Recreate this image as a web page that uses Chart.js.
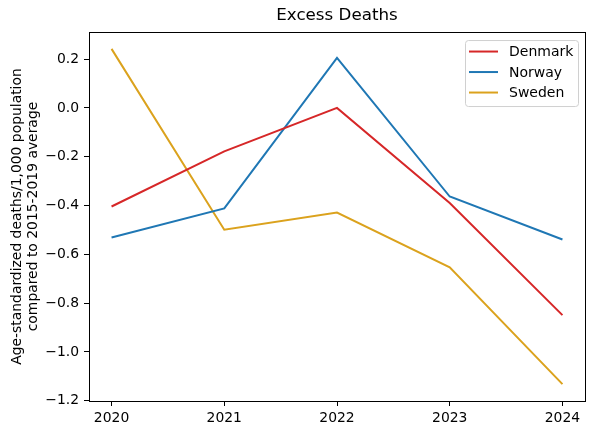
<!DOCTYPE html>
<html>
<head>
<meta charset="utf-8">
<script src="https://cdn.jsdelivr.net/npm/chart.js@4"></script>
<style>
  html, body { margin: 0; padding: 0; background: #fff; }
  #wrap { width: 595px; height: 435px; }
</style>
</head>
<body>
<div id="wrap"><canvas id="excessChart" width="595" height="435"></canvas></div>
<script>
const years = [2020, 2021, 2022, 2023, 2024];
const denmark = [-0.404, -0.178, 0.0, -0.39, -0.849];
const norway = [-0.531, -0.412, 0.205, -0.363, -0.539];
const sweden = [0.242, -0.499, -0.429, -0.653, -1.132];
const yTicks = [-1.2, -1.0, -0.8, -0.6, -0.4, -0.2, 0.0, 0.2];

const series = [
    { label: 'Denmark', values: denmark, color: '#d62728' },
    { label: 'Norway', values: norway, color: '#1f77b4' },
    { label: 'Sweden', values: sweden, color: '#dba21d' }
];

const font = 'DejaVu Sans';

// frame around the plot plus the matplotlib-like legend box
const framePlugin = {
    id: 'frame',
    afterDraw(chart) {
        const ctx = chart.ctx;
        const ca = chart.chartArea;
        ctx.save();
        ctx.strokeStyle = '#000';
        ctx.lineWidth = 1;
        ctx.strokeRect(Math.round(ca.left) + 0.5, Math.round(ca.top) + 0.5,
            Math.round(ca.right - ca.left), Math.round(ca.bottom - ca.top));

        // legend
        const w = 113, h = 66;
        const bx = ca.right - 7 - w, by = ca.top + 8;
        ctx.beginPath();
        ctx.roundRect(bx + 0.5, by + 0.5, w, h, 3);
        ctx.fillStyle = 'rgba(255,255,255,0.8)';
        ctx.fill();
        ctx.strokeStyle = '#d0d0d0';
        ctx.stroke();
        ctx.font = '14px "' + font + '"';
        ctx.textBaseline = 'middle';
        ctx.textAlign = 'left';
        series.forEach((s, i) => {
            const ly = by + 11.5 + i * 20.5;
            ctx.beginPath();
            ctx.moveTo(bx + 4, ly);
            ctx.lineTo(bx + 33, ly);
            ctx.strokeStyle = s.color;
            ctx.lineWidth = 2;
            ctx.stroke();
            ctx.fillStyle = '#000';
            ctx.fillText(s.label, bx + 44, ly + 1);
        });
        ctx.restore();
    }
};

const ctx = document.getElementById('excessChart').getContext('2d');
new Chart(ctx, {
    type: 'line',
    data: {
        datasets: series.map(s => ({
            label: s.label,
            data: years.map((yr, i) => ({ x: yr, y: s.values[i] })),
            borderColor: s.color,
            backgroundColor: s.color,
            borderWidth: 2,
            pointRadius: 0,
            tension: 0,
            fill: false
        }))
    },
    options: {
        responsive: false,
        animation: false,
        layout: { padding: { left: 0, right: 10, top: 0, bottom: 0 } },
        plugins: {
            legend: { display: false },
            tooltip: { enabled: false },
            title: {
                display: true,
                text: 'Excess Deaths',
                fullSize: false,
                color: '#000',
                font: { family: font, size: 16.7, weight: 'normal' },
                padding: { top: 6, bottom: 6 }
            }
        },
        scales: {
            x: {
                type: 'linear',
                min: 2019.8,
                max: 2024.2,
                afterBuildTicks: scale => { scale.ticks = years.map(v => ({ value: v })); },
                afterFit: scale => { scale.height = 34; },
                grid: { display: true, drawOnChartArea: false, drawTicks: true, tickLength: 5, tickColor: '#000', lineWidth: 1 },
                border: { display: false },
                ticks: {
                    color: '#000',
                    padding: 4,
                    maxRotation: 0,
                    font: { family: font, size: 13.9 },
                    callback: v => String(v)
                }
            },
            y: {
                min: -1.201,
                max: 0.311,
                afterBuildTicks: scale => { scale.ticks = yTicks.map(v => ({ value: v })); },
                afterFit: scale => { scale.width = 89; },
                grid: { display: true, drawOnChartArea: false, drawTicks: true, tickLength: 5, tickColor: '#000', lineWidth: 1 },
                border: { display: false },
                title: {
                    display: true,
                    text: ['Age-standardized deaths/1,000 population', 'compared to 2015-2019 average'],
                    color: '#000',
                    font: { family: font, size: 13.9, lineHeight: 1.15 },
                    padding: { top: 9, bottom: 0 }
                },
                ticks: {
                    color: '#000',
                    padding: 5,
                    font: { family: font, size: 13.9 },
                    callback: v => v.toFixed(1).replace('-', '\u2212')
                }
            }
        }
    },
    plugins: [framePlugin]
});
</script>
</body>
</html>
